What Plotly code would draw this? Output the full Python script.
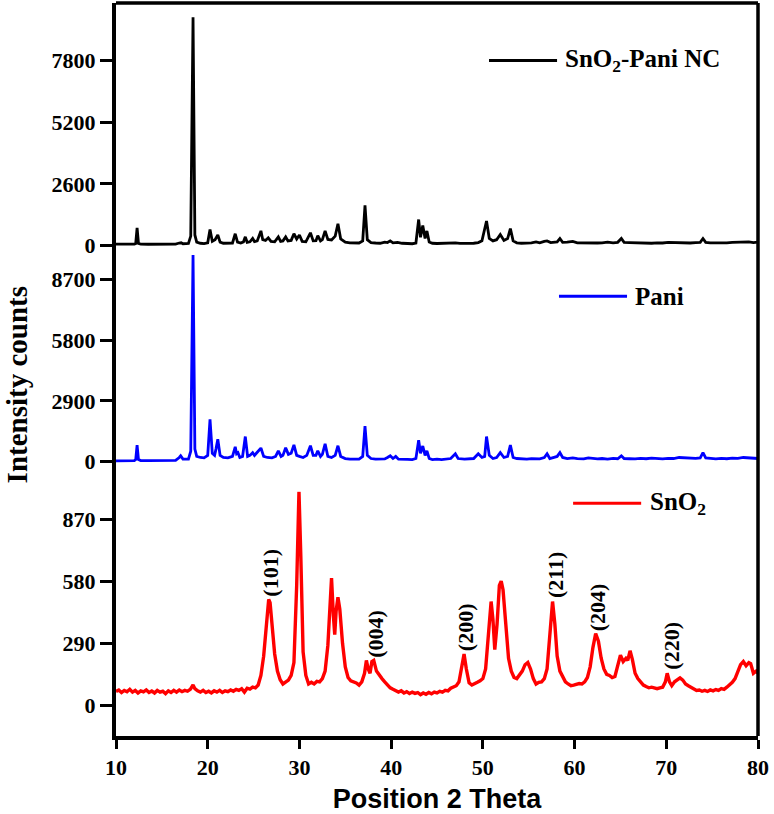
import plotly.graph_objects as go
from plotly.subplots import make_subplots

# ---------------- data ----------------
nc_x = [10.0, 10.5, 11.0, 11.5, 12.0, 12.15, 12.3, 12.45, 12.7, 13.5, 14.5, 15.5, 16.5, 16.9, 17.1, 17.3,
        17.9, 18.15, 18.4, 18.6, 18.8, 19.2, 19.6, 20.0, 20.25, 20.5, 20.8, 21.1, 21.35, 21.7, 22.2, 22.7,
        23.0, 23.25, 23.6, 23.9, 24.1, 24.3, 24.6, 24.9, 25.1, 25.4, 25.8, 26.0, 26.3, 26.6, 26.9, 27.3,
        27.7, 27.95, 28.2, 28.5, 28.75, 29.1, 29.4, 29.7, 30.0, 30.3, 30.7, 31.2, 31.5, 31.8, 32.0, 32.3,
        32.5, 32.8, 33.1, 33.5, 33.9, 34.2, 34.5, 35.0, 35.5, 36.0, 36.5, 36.9, 37.15, 37.4, 37.8, 38.3,
        38.8, 39.3, 39.6, 39.9, 40.2, 40.7, 41.2, 41.8, 42.3, 42.7, 43.0, 43.2, 43.45, 43.7, 43.9, 44.15,
        44.5, 45.0, 45.5, 46.0, 46.5, 47.0, 47.5, 48.0, 48.5, 49.0, 49.5, 49.9, 50.4, 50.7, 51.1, 51.5,
        51.9, 52.3, 52.7, 53.0, 53.3, 53.7, 54.2, 54.8, 55.3, 55.8, 56.2, 56.7, 57.0, 57.4, 57.8, 58.1,
        58.4, 58.7, 59.2, 59.8, 60.3, 61.0, 61.5, 62.0, 62.5, 63.0, 63.6, 64.2, 64.7, 65.1, 65.4, 66.0,
        66.6, 67.2, 67.8, 68.4, 69.0, 69.6, 70.2, 70.8, 71.4, 72.0, 72.6, 73.2, 73.7, 74.0, 74.3, 74.8,
        75.4, 76.0, 76.6, 77.2, 77.8, 78.4, 79.0, 79.5, 80.0]
nc_y = [60, 55, 60, 58, 62, 90, 750, 90, 60, 58, 55, 58, 65, 110, 120, 80,
        90, 400, 9620, 450, 150, 100, 85, 120, 680, 180, 250, 450, 150, 100, 90, 110,
        500, 150, 110, 160, 370, 140, 160, 300, 170, 200, 620, 250, 220, 330, 180, 160,
        370, 180, 200, 370, 200, 220, 500, 280, 450, 180, 160, 540, 200, 210, 420, 200,
        250, 620, 260, 240, 400, 920, 280, 150, 120, 110, 110, 200, 1700, 250, 130, 110,
        100, 150, 130, 200, 120, 140, 100, 90, 80, 110, 1100, 350, 850, 300, 620, 150,
        100, 90, 100, 85, 110, 120, 95, 90, 110, 100, 130, 200, 1040, 300, 200, 250,
        470, 220, 300, 720, 200, 120, 100, 110, 120, 160, 120, 180, 200, 130, 150, 160,
        300, 140, 150, 180, 120, 110, 130, 120, 110, 120, 150, 120, 140, 300, 140, 130,
        120, 110, 130, 100, 120, 110, 140, 130, 150, 120, 110, 130, 140, 300, 140, 120,
        110, 130, 120, 140, 150, 140, 160, 130, 150]

pani_x = [10.0, 10.5, 11.0, 11.5, 12.0, 12.15, 12.3, 12.45, 12.7, 13.5, 14.5, 15.5, 16.5, 16.9, 17.05, 17.3,
          17.9, 18.15, 18.4, 18.6, 18.8, 19.2, 19.6, 20.0, 20.25, 20.5, 20.75, 20.9, 21.1, 21.35, 21.7, 22.2,
          22.7, 23.0, 23.15, 23.3, 23.5, 23.8, 24.1, 24.35, 24.6, 24.9, 25.1, 25.4, 25.8, 26.1, 26.5, 27.0,
          27.4, 27.7, 28.0, 28.2, 28.5, 28.8, 29.1, 29.4, 29.7, 30.0, 30.4, 30.8, 31.2, 31.5, 31.8, 32.0,
          32.3, 32.5, 32.8, 33.1, 33.5, 33.9, 34.2, 34.5, 35.0, 35.5, 36.0, 36.5, 36.9, 37.15, 37.4, 37.8,
          38.3, 38.8, 39.3, 39.6, 39.9, 40.2, 40.5, 40.8, 41.3, 41.8, 42.3, 42.7, 43.0, 43.2, 43.45, 43.7,
          43.9, 44.15, 44.5, 45.0, 45.5, 46.0, 46.5, 47.0, 47.3, 48.0, 48.5, 49.0, 49.5, 49.9, 50.2, 50.4,
          50.7, 51.1, 51.5, 51.9, 52.3, 52.7, 53.0, 53.3, 53.7, 54.2, 54.8, 55.3, 55.8, 56.2, 56.7, 57.0,
          57.3, 57.8, 58.1, 58.4, 58.7, 59.2, 59.8, 60.3, 61.0, 61.5, 62.0, 62.5, 63.0, 63.6, 64.2, 64.7,
          65.1, 65.4, 66.0, 66.6, 67.2, 67.8, 68.4, 69.0, 69.6, 70.2, 70.8, 71.4, 72.0, 72.6, 73.2, 73.7,
          74.0, 74.3, 74.8, 75.4, 76.0, 76.6, 77.2, 77.8, 78.4, 79.0, 79.5, 80.0]
pani_y = [40, 45, 40, 45, 50, 100, 790, 100, 50, 45, 45, 48, 60, 200, 280, 120,
          120, 500, 9870, 600, 250, 200, 180, 300, 2020, 400, 300, 600, 1070, 300, 200, 180,
          250, 710, 380, 430, 200, 250, 1200, 250, 300, 430, 300, 450, 650, 250, 200, 180,
          250, 520, 250, 300, 660, 350, 400, 800, 300, 250, 200, 300, 760, 300, 300, 520,
          250, 350, 850, 250, 200, 300, 760, 250, 150, 120, 110, 120, 250, 1700, 300, 150,
          120, 110, 130, 200, 280, 150, 250, 120, 100, 110, 100, 150, 1020, 400, 750, 300,
          520, 150, 100, 120, 100, 130, 150, 380, 150, 120, 130, 150, 380, 200, 250, 1200,
          300, 150, 200, 430, 200, 250, 790, 200, 150, 130, 120, 140, 150, 130, 200, 380,
          150, 200, 250, 430, 200, 150, 180, 140, 130, 180, 140, 130, 150, 120, 160, 140,
          280, 150, 140, 130, 160, 140, 170, 150, 130, 160, 150, 200, 180, 150, 160, 180,
          430, 180, 150, 130, 160, 140, 170, 160, 200, 180, 190, 150]

sno2_x = [10.0, 10.3, 10.6, 10.9, 11.2, 11.5, 11.8, 12.1, 12.4, 12.7, 13.0, 13.3, 13.6, 13.9, 14.2, 14.5,
          14.8, 15.1, 15.4, 15.7, 16.0, 16.3, 16.6, 16.9, 17.2, 17.5, 17.8, 18.1, 18.4, 18.6, 18.9, 19.2,
          19.5, 19.8, 20.1, 20.4, 20.7, 21.0, 21.3, 21.6, 21.9, 22.2, 22.5, 22.8, 23.1, 23.4, 23.7, 24.0,
          24.3, 24.6, 24.9, 25.2, 25.5, 25.8, 26.1, 26.4, 26.65, 26.8, 27.0, 27.3, 27.6, 27.9, 28.2, 28.5,
          28.8, 29.1, 29.4, 29.7, 29.95, 30.15, 30.4, 30.7, 31.0, 31.3, 31.6, 31.9, 32.2, 32.5, 32.8, 33.1,
          33.35, 33.5, 33.7, 33.85, 34.0, 34.2, 34.4, 34.7, 35.0, 35.3, 35.6, 35.9, 36.2, 36.5, 36.8, 37.1,
          37.3, 37.5, 37.7, 37.9, 38.1, 38.4, 38.7, 39.0, 39.3, 39.6, 39.9, 40.2, 40.5, 40.8, 41.1, 41.4,
          41.7, 42.0, 42.3, 42.6, 42.9, 43.2, 43.5, 43.8, 44.1, 44.4, 44.7, 45.0, 45.3, 45.6, 45.9, 46.2,
          46.5, 46.8, 47.1, 47.4, 47.7, 47.95, 48.2, 48.5, 48.8, 49.1, 49.4, 49.7, 50.0, 50.3, 50.6, 50.9,
          51.1, 51.3, 51.55, 51.8, 52.0, 52.2, 52.5, 52.8, 53.1, 53.4, 53.7, 54.0, 54.3, 54.6, 54.9, 55.2,
          55.5, 55.8, 56.1, 56.4, 56.7, 57.0, 57.3, 57.6, 57.85, 58.1, 58.4, 58.7, 59.0, 59.3, 59.6, 59.9,
          60.2, 60.5, 60.8, 61.1, 61.4, 61.7, 62.0, 62.3, 62.6, 62.9, 63.2, 63.5, 63.8, 64.1, 64.4, 64.7,
          65.0, 65.3, 65.6, 65.8, 66.05, 66.3, 66.6, 66.9, 67.2, 67.5, 67.8, 68.1, 68.4, 68.7, 69.0, 69.3,
          69.6, 69.9, 70.1, 70.35, 70.6, 70.9, 71.2, 71.5, 71.8, 72.1, 72.4, 72.7, 73.0, 73.3, 73.6, 73.9,
          74.2, 74.5, 74.8, 75.1, 75.4, 75.7, 76.0, 76.3, 76.6, 76.9, 77.2, 77.5, 77.8, 78.1, 78.4, 78.7,
          79.0, 79.2, 79.5, 79.8, 80.0]
sno2_y = [65, 72, 60, 70, 64, 75, 62, 70, 58, 68, 63, 72, 60, 67, 58, 70,
          62, 66, 55, 68, 60, 70, 62, 72, 64, 70, 66, 75, 95, 78, 68, 62,
          70, 60, 66, 58, 68, 62, 70, 60, 68, 64, 72, 66, 75, 70, 78, 62,
          80, 76, 85, 82, 95, 140, 230, 380, 495, 480, 390, 240, 160, 120, 100, 108,
          118, 140, 200, 560, 1000, 700, 250, 140, 100, 108, 100, 112, 110, 125, 160, 280,
          520, 595, 420, 330, 440, 505, 450, 290, 180, 130, 115, 110, 105, 95, 110, 150,
          210, 170, 150, 205, 210, 160, 140, 125, 110, 95, 82, 75, 70, 62, 68, 58,
          64, 55, 62, 56, 60, 50, 58, 52, 60, 54, 62, 58, 66, 62, 70, 68,
          80, 88, 92, 110, 190, 240, 170, 105, 95, 100, 108, 115, 125, 170, 330, 485,
          400, 260, 380, 560, 580, 540, 380, 220, 160, 130, 125, 140, 160, 190, 200, 170,
          125, 100, 108, 110, 125, 170, 330, 485, 380, 230, 160, 130, 110, 100, 92, 95,
          98, 102, 100, 110, 130, 180, 270, 335, 300, 220, 170, 145, 140, 130, 135, 180,
          235, 205, 220, 210, 255, 215, 150, 125, 110, 95, 88, 82, 85, 80, 78, 82,
          85, 110, 150, 110, 92, 110, 118, 128, 118, 100, 92, 85, 75, 70, 72, 66,
          70, 65, 72, 68, 74, 70, 78, 75, 85, 95, 108, 125, 160, 190, 205, 185,
          200, 195, 150, 160, 150]

hkl_labels = ["(101)", "(004)", "(200)", "(211)", "(204)", "(220)"]
hkl_theta = [26.9, 38.2, 48.05, 57.9, 62.45, 70.6]
hkl_level = [620, 333, 365, 610, 458, 278]

x_ticks = [10, 20, 30, 40, 50, 60, 70, 80]
nc_ticks = [0, 2600, 5200, 7800]
pani_ticks = [0, 2900, 5800, 8700]
sno2_ticks = [0, 290, 580, 870]

# ---------------- figure ----------------
SERIF = "Liberation Serif"
SANS = "Liberation Sans"

fig = make_subplots(rows=3, cols=1, shared_xaxes=True, vertical_spacing=0)

fig.add_trace(go.Scatter(x=nc_x, y=nc_y, mode="lines", line=dict(color="black", width=2.8),
                         name="SnO2-Pani NC", showlegend=False), row=1, col=1)
fig.add_trace(go.Scatter(x=pani_x, y=pani_y, mode="lines", line=dict(color="#0000ff", width=2.8),
                         name="Pani", showlegend=False), row=2, col=1)
fig.add_trace(go.Scatter(x=sno2_x, y=sno2_y, mode="lines", line=dict(color="#ff0000", width=3.4),
                         name="SnO2", showlegend=False), row=3, col=1)

tickfont = dict(family=SERIF, size=22, color="black", weight="bold")

common_y = dict(showgrid=False, zeroline=False, showline=True, linecolor="black", linewidth=4,
                ticks="outside", ticklen=12, tickwidth=3, tickcolor="black", tickfont=tickfont,
                mirror=False)
fig.update_yaxes(**common_y)
fig.update_yaxes(row=1, col=1, range=[-71, 10225], tickvals=nc_ticks, domain=[0.6667, 1.0])
fig.update_yaxes(row=2, col=1, range=[-1434, 10237], tickvals=pani_ticks, domain=[0.3333, 0.6667])
fig.update_yaxes(row=3, col=1, range=[-143, 998], tickvals=sno2_ticks, domain=[0.0, 0.3333])

fig.update_xaxes(range=[10, 80], showgrid=False, zeroline=False)
fig.update_xaxes(row=1, col=1, showline=False, ticks="", showticklabels=False)
fig.update_xaxes(row=2, col=1, showline=False, ticks="", showticklabels=False)
fig.update_xaxes(row=3, col=1, showline=True, linecolor="black", linewidth=4, ticks="outside",
                 ticklen=9, tickwidth=3, tickcolor="black", tickvals=x_ticks, tickfont=tickfont,
                 showticklabels=True,
                 title=dict(text="Position 2 Theta", standoff=12,
                            font=dict(family=SANS, size=27, color="black", weight="bold")))

# frame (top and right sides)
fig.add_shape(type="line", xref="paper", yref="paper", x0=0, x1=1, y0=1, y1=1,
              line=dict(color="black", width=3.5))
fig.add_shape(type="line", xref="paper", yref="paper", x0=1, x1=1, y0=0, y1=1,
              line=dict(color="black", width=3.5))

# legend samples
legend_items = [
    ("SnO<sub>2</sub>-Pani NC", "black", 0.581, 0.687, 0.9216),
    ("Pani", "#0000ff", 0.690, 0.796, 0.600),
    ("SnO<sub>2</sub>", "#ff0000", 0.712, 0.818, 0.3176),
]
for text, col, xa, xb, yy in legend_items:
    fig.add_shape(type="line", xref="paper", yref="paper", x0=xa, x1=xb, y0=yy, y1=yy,
                  line=dict(color=col, width=3))
    fig.add_annotation(xref="paper", yref="paper", x=xb + 0.010, y=yy, text=text, showarrow=False,
                       xanchor="left", yanchor="middle",
                       font=dict(family=SERIF, size=25, color="black", weight="bold"))

# peak indices
for lab, tx, lv in zip(hkl_labels, hkl_theta, hkl_level):
    fig.add_annotation(x=tx, y=lv, xref="x3", yref="y3", text=lab, showarrow=False, textangle=-90,
                       font=dict(family=SERIF, size=22, color="black", weight="bold"))

# y-axis title
fig.add_annotation(xref="paper", yref="paper", x=-0.155, y=0.479, text="Intensity counts",
                   showarrow=False, textangle=-90, xanchor="center", yanchor="middle",
                   font=dict(family=SERIF, size=29, color="black", weight="bold"))

fig.update_layout(width=774, height=814, margin=dict(l=116, r=16, t=3, b=71),
                  paper_bgcolor="white", plot_bgcolor="white", showlegend=False)

fig.write_html("out.html")
